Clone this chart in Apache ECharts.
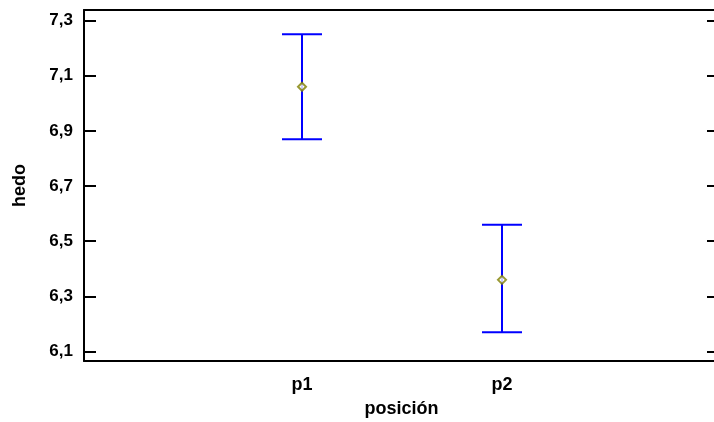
<!DOCTYPE html>
<html>
<head>
<meta charset="utf-8">
<script src="https://cdn.jsdelivr.net/npm/echarts@6/dist/echarts.min.js"></script>
<style>html,body{margin:0;padding:0;background:#fff;}#c{width:714px;height:422px;}</style>
</head>
<body>
<div id="c"></div>
<script>
const categories = ['p1', 'p2'];
const means = [7.06, 6.36];
const lower = [6.87, 6.17];
const upper = [7.25, 6.56];
const yTicks = [6.1, 6.3, 6.5, 6.7, 6.9, 7.1, 7.3];

const font = { fontFamily: 'Liberation Sans, Arial, sans-serif', fontWeight: 'bold', fontSize: 17, color: '#000' };
const chart = echarts.init(document.getElementById('c'));
const xPos = categories.map((c, i) => i + 1);
const axLine = { show: true, onZero: false, lineStyle: { color: '#000', width: 2 } };

chart.setOption({
  animation: false,
  grid: { left: 84, top: 10, width: 635, height: 351, containLabel: false, outerBoundsMode: 'none' },
  xAxis: [{
    type: 'value', min: -0.09, max: 3.085,
    name: 'posición', nameLocation: 'middle', nameGap: 39,
    nameTextStyle: Object.assign({}, font, { fontSize: 18 }),
    axisLine: axLine,
    axisTick: { show: false },
    splitLine: { show: false },
    axisLabel: Object.assign({}, font, {
      fontSize: 18, customValues: xPos, margin: 15,
      formatter: v => categories[Math.round(v) - 1] || ''
    })
  }, {
    type: 'value', position: 'top', min: -0.09, max: 3.085,
    axisLine: axLine,
    axisTick: { show: false }, axisLabel: { show: false }, splitLine: { show: false }
  }],
  yAxis: [{
    type: 'value', min: 6.066, max: 7.338,
    name: 'hedo', nameLocation: 'middle', nameGap: 55, nameRotate: 90,
    nameTextStyle: Object.assign({}, font, { fontSize: 18 }),
    axisLine: axLine,
    axisTick: { show: true, inside: true, length: 12, customValues: yTicks, lineStyle: { color: '#000', width: 2 } },
    splitLine: { show: false },
    axisLabel: Object.assign({}, font, {
      customValues: yTicks, margin: 11,
      formatter: v => v.toFixed(1).replace('.', ',')
    })
  }, {
    type: 'value', position: 'right', min: 6.066, max: 7.338,
    axisLine: axLine,
    axisTick: { show: true, inside: true, length: 12, customValues: yTicks, lineStyle: { color: '#000', width: 2 } },
    axisLabel: { show: false }, splitLine: { show: false }
  }],
  series: [{
    type: 'custom',
    data: xPos.map((x, i) => [x, lower[i], upper[i]]),
    renderItem: function (params, api) {
      const x = api.value(0);
      const lo = api.coord([x, api.value(1)]);
      const hi = api.coord([x, api.value(2)]);
      const hw = 20;
      const st = { stroke: '#0000ff', lineWidth: 2 };
      return {
        type: 'group',
        children: [
          { type: 'line', shape: { x1: lo[0], y1: lo[1], x2: hi[0], y2: hi[1] }, style: st },
          { type: 'line', shape: { x1: hi[0] - hw, y1: hi[1], x2: hi[0] + hw, y2: hi[1] }, style: st },
          { type: 'line', shape: { x1: lo[0] - hw, y1: lo[1], x2: lo[0] + hw, y2: lo[1] }, style: st }
        ]
      };
    },
    z: 2
  }, {
    type: 'scatter',
    data: xPos.map((x, i) => [x, means[i]]),
    symbol: 'emptyDiamond', symbolSize: 8,
    itemStyle: { color: '#808000', borderColor: '#808000', borderWidth: 1.5 },
    z: 3
  }]
});
</script>
</body>
</html>
